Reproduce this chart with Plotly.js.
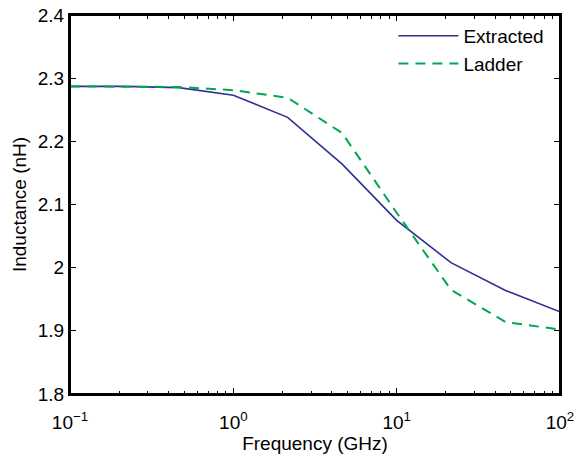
<!DOCTYPE html>
<html>
<head>
<meta charset="utf-8">
<script src="https://cdn.plot.ly/plotly-3.0.1.min.js"></script>
<style>html,body{margin:0;padding:0;background:#fff;}#chart{width:574px;height:455px;}</style>
</head>
<body>
<div id="chart"></div>
<script>
// Frequencies (GHz)
const freq = [0.1, 0.215, 0.464, 1, 2.15, 4.64, 10, 21.5, 46.4, 100];
// Inductance (nH)
const extracted = [2.287, 2.287, 2.285, 2.273, 2.238, 2.164, 2.075, 2.008, 1.964, 1.930];
const ladder    = [2.287, 2.287, 2.286, 2.281, 2.269, 2.213, 2.087, 1.965, 1.914, 1.902];

const xTickVals = [0.1, 1, 10, 100];
const xTickText = ['10<sup>−1</sup>', '10<sup>0</sup>', '10<sup>1</sup>', '10<sup>2</sup>'];
const xMinorVals = [];
[0.1, 1, 10].forEach(d => { for (let k = 2; k <= 9; k++) xMinorVals.push(d * k); });
const yTickVals = [1.8, 1.9, 2.0, 2.1, 2.2, 2.3, 2.4];
const yTickText = ['1.8', '1.9', '2', '2.1', '2.2', '2.3', '2.4'];

const font = {family: '"Liberation Sans", Arial, Helvetica, sans-serif', size: 19, color: '#000'};

const traces = [
  {x: freq, y: extracted, name: 'Extracted', type: 'scatter', mode: 'lines',
   line: {color: '#2e3192', width: 1.6}},
  {x: freq, y: ladder, name: 'Ladder', type: 'scatter', mode: 'lines',
   line: {color: '#00a651', width: 2, dash: '10px,7px'}}
];

const layout = {
  width: 574, height: 455,
  margin: {l: 70, r: 14, t: 15, b: 61},
  paper_bgcolor: '#fff', plot_bgcolor: '#fff',
  font: font,
  showlegend: true,
  legend: {x: 0.66, y: 0.995, xanchor: 'left', yanchor: 'top', bgcolor: 'rgba(0,0,0,0)',
           borderwidth: 0, font: font, tracegroupgap: 0, itemwidth: 60},
  shapes: [{type: 'rect', xref: 'paper', yref: 'paper', x0: 0, x1: 1, y0: 0, y1: 1,
            line: {color: '#000', width: 2}, fillcolor: 'rgba(0,0,0,0)', layer: 'above'}],
  xaxis: {
    type: 'log', range: [-1.0000001, 2.0000001], showgrid: false, zeroline: false,
    showline: true, linecolor: '#000', linewidth: 2, mirror: 'ticks',
    ticks: 'inside', ticklen: 6, tickwidth: 1.2, tickcolor: '#000',
    tickvals: xTickVals, ticktext: xTickText, tickfont: font, ticklabelstandoff: 10,
    ticklabeloverflow: 'allow',
    minor: {tickvals: xMinorVals, ticks: 'inside', ticklen: 3.5, tickwidth: 1, tickcolor: '#000', showgrid: false},
    title: {text: 'Frequency (GHz)', font: font, standoff: 3},
    automargin: false
  },
  yaxis: {
    range: [1.8, 2.4], showgrid: false, zeroline: false,
    showline: true, linecolor: '#000', linewidth: 2, mirror: 'ticks',
    ticks: 'inside', ticklen: 6, tickwidth: 1.2, tickcolor: '#000',
    tickvals: yTickVals, ticktext: yTickText, tickfont: font,
    title: {text: 'Inductance (nH)', font: font, standoff: 6},
    automargin: false
  }
};

Plotly.newPlot('chart', traces, layout, {displayModeBar: false, staticPlot: true});
</script>
</body>
</html>
